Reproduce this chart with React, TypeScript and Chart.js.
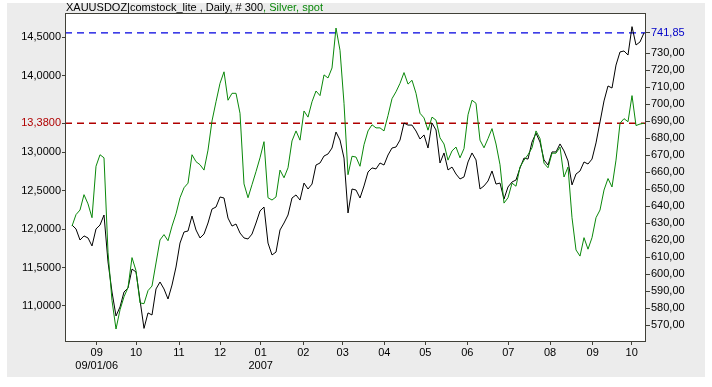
import React, { useEffect, useRef } from 'react';
import { Chart, registerables } from 'chart.js';

Chart.register(...registerables);

// Silver, spot (left axis) — sampled every 2 trading days
const silver = [
  12.04, 12.19, 12.25, 12.45, 12.33, 12.15, 12.82, 12.97, 12.93, 11.70,
  11.07, 10.70, 10.95, 11.12, 11.24, 11.63, 11.46, 11.04, 11.03, 11.20,
  11.26, 11.56, 11.86, 11.93, 11.85, 12.04, 12.20, 12.41, 12.54, 12.60,
  12.97, 12.88, 12.84, 12.77, 13.03, 13.41, 13.66, 13.90, 14.05, 13.68,
  13.77, 13.77, 13.51, 12.59, 12.41, 12.58, 12.75, 12.93, 13.14, 12.41,
  12.38, 12.42, 12.77, 12.67, 12.80, 13.15, 13.28, 13.16, 13.54, 13.46,
  13.66, 13.80, 13.74, 14.01, 13.97, 14.10, 14.62, 14.33, 13.64, 12.71,
  12.95, 12.94, 12.82, 13.10, 13.28, 13.36, 13.32, 13.32, 13.28, 13.48,
  13.70, 13.79, 13.90, 14.04, 13.89, 13.94, 13.77, 13.51, 13.45, 13.29,
  13.46, 13.42, 13.19, 13.11, 12.90, 13.02, 13.07, 12.93, 13.05, 13.49,
  13.68, 13.64, 13.16, 13.06, 13.18, 13.31, 13.11, 12.84, 12.34, 12.41,
  12.60, 12.56, 12.81, 12.90, 12.97, 13.06, 13.28, 13.18, 12.86, 12.80,
  12.99, 12.99, 13.07, 12.68, 12.81, 12.15, 11.73, 11.65, 11.89, 11.74,
  11.89, 12.15, 12.25, 12.51, 12.66, 12.55, 12.90, 13.38, 13.44, 13.40,
  13.74, 13.35, 13.37, 13.38,
];

// XAUUSDOZ gold (right axis) — sampled every 2 trading days
const gold = [
  628.8, 626.5, 620.0, 622.4, 621.2, 616.5, 626.5, 628.8, 634.7, 607.1,
  589.4, 575.3, 580.6, 589.4, 591.8, 602.9, 601.2, 584.7, 568.0, 577.1,
  575.9, 591.2, 595.3, 591.2, 585.3, 593.5, 604.1, 618.2, 624.7, 625.3,
  634.1, 625.9, 621.2, 623.5, 630.0, 638.2, 639.4, 645.3, 644.7, 632.9,
  628.2, 629.4, 624.1, 621.2, 620.6, 623.5, 630.0, 637.1, 639.4, 618.2,
  611.2, 612.9, 625.9, 630.0, 634.7, 644.7, 646.5, 643.5, 653.5, 650.0,
  652.9, 664.1, 665.3, 669.4, 670.6, 674.1, 683.5, 678.8, 668.2, 635.9,
  650.0, 649.4, 644.7, 651.8, 660.0, 662.4, 661.8, 665.3, 664.1, 670.0,
  674.1, 674.7, 678.8, 688.8, 687.6, 687.6, 684.1, 679.4, 681.8, 674.1,
  688.8, 684.7, 665.3, 671.2, 661.2, 662.9, 658.8, 655.9, 657.1, 665.9,
  671.2, 667.1, 650.0, 651.8, 654.7, 660.6, 652.9, 653.5, 644.1, 651.2,
  654.1, 655.3, 662.4, 668.2, 667.6, 677.6, 682.9, 677.6, 667.1, 664.1,
  671.8, 671.8, 676.5, 672.4, 666.5, 652.4, 658.8, 660.6, 665.9, 664.7,
  667.6, 677.1, 689.4, 701.8, 710.6, 709.4, 722.9, 730.6, 731.2, 728.8,
  745.5, 734.7, 736.5, 741.85,
];

// Month ticks (position in sample index), labels
const monthTickPos = [6.17, 16, 26.75, 37, 47.17, 57.83, 67.67, 78.08, 88.33, 98.83, 109.08, 119.5, 130.17, 139.92];
const monthLabels = ['09', '10', '11', '12', '01', '02', '03', '04', '05', '06', '07', '08', '09', '10'];
const subLabels = ['09/01/06', '', '', '', '2007', '', '', '', '', '', '', '', '', ''];

const silverTicks = [11.0, 11.5, 12.0, 12.5, 13.0, 14.0, 14.5];
const goldTicks = [570, 580, 590, 600, 610, 620, 630, 640, 650, 660, 670, 680, 690, 700, 710, 720, 730];

const titleMain = 'XAUUSDOZ|comstock_lite , Daily, # 300';
const titleSecond = ', Silver, spot';

const GREEN = '#0a880a';
const RED = '#b00000';
const BLUE = '#0000e0';
const BLUE_TEXT = '#0000c8';
const RED_TEXT = '#b00000';
const FONT = 'Liberation Sans';

export default function App() {
  const ref = useRef<HTMLCanvasElement | null>(null);

  useEffect(() => {
    const canvas = ref.current;
    if (!canvas) return;
    const lastSilver = silver[silver.length - 1];
    const lastGold = gold[gold.length - 1];
    const n = silver.length;

    const bgPlugin = {
      id: 'bgPlugin',
      beforeDraw(chart: any) {
        const { ctx, chartArea: a } = chart;
        ctx.save();
        ctx.fillStyle = '#ffffff';
        ctx.fillRect(0, 0, chart.width, chart.height);
        ctx.fillStyle = '#ececec';
        ctx.fillRect(7, 3, 698, 374);
        ctx.fillStyle = '#ffffff';
        ctx.fillRect(a.left, a.top, a.right - a.left, a.bottom - a.top);
        ctx.restore();
      },
      afterDraw(chart: any) {
        const { ctx, chartArea: a } = chart;
        ctx.save();
        ctx.strokeStyle = '#404038';
        ctx.lineWidth = 1;
        ctx.strokeRect(a.left + 0.5, a.top + 0.5, a.right - a.left - 1, a.bottom - a.top - 1);
        ctx.font = `11px "${FONT}"`;
        ctx.textBaseline = 'alphabetic';
        ctx.fillStyle = '#000000';
        ctx.fillText(titleMain, a.left + 1, 11);
        const w = ctx.measureText(titleMain).width;
        ctx.fillStyle = GREEN;
        ctx.fillText(titleSecond, a.left + 1 + w, 11);
        ctx.restore();
      },
    };

    const chart = new Chart(canvas, {
      type: 'line',
      data: {
        datasets: [
          {
            label: 'Silver, spot',
            data: silver.map((v, i) => ({ x: i, y: v })),
            yAxisID: 'yL',
            borderColor: GREEN,
            borderWidth: 1,
            pointRadius: 0,
            tension: 0,
            order: 1,
          },
          {
            label: 'XAUUSDOZ',
            data: gold.map((v, i) => ({ x: i, y: v })),
            yAxisID: 'yR',
            borderColor: '#000000',
            borderWidth: 1,
            pointRadius: 0,
            tension: 0,
            order: 2,
          },
          {
            label: 'Last silver',
            data: [{ x: -1.75, y: lastSilver }, { x: 143.5, y: lastSilver }],
            yAxisID: 'yL',
            borderColor: RED,
            borderWidth: 1.4,
            borderDash: [7, 5],
            pointRadius: 0,
            order: 3,
          },
          {
            label: 'Last gold',
            data: [{ x: -1.75, y: lastGold }, { x: 143.5, y: lastGold }],
            yAxisID: 'yR',
            borderColor: BLUE,
            borderWidth: 1.4,
            borderDash: [7, 5],
            pointRadius: 0,
            order: 4,
          },
        ],
      },
      options: {
        animation: false,
        responsive: false,
        devicePixelRatio: 1,
        layout: { padding: { top: 13, left: 0, right: 0, bottom: 0 } },
        plugins: { legend: { display: false }, tooltip: { enabled: false }, title: { display: false } },
        scales: {
          x: {
            type: 'linear',
            min: -1.75,
            max: 143.5,
            border: { display: false },
            grid: { drawOnChartArea: false, drawTicks: true, tickLength: 3, color: '#404038' },
            afterBuildTicks: (scale: any) => {
              scale.ticks = monthTickPos.map((v) => ({ value: v }));
            },
            afterFit: (scale: any) => {
              scale.height = 45;
            },
            ticks: {
              autoSkip: false,
              maxRotation: 0,
              padding: 1,
              color: '#000000',
              font: { family: FONT, size: 11 },
              callback: (_v: any, idx: number) =>
                subLabels[idx] ? [monthLabels[idx], subLabels[idx]] : monthLabels[idx],
            },
          },
          yL: {
            type: 'linear',
            position: 'left',
            min: 10.531,
            max: 14.816,
            border: { display: false },
            grid: { drawOnChartArea: false, drawTicks: true, tickLength: 3, color: '#404038' },
            afterBuildTicks: (scale: any) => {
              scale.ticks = [...silverTicks, lastSilver].sort((a, b) => a - b).map((v) => ({ value: v }));
            },
            afterFit: (scale: any) => {
              scale.width = 65;
            },
            ticks: {
              padding: 1,
              font: { family: FONT, size: 11 },
              color: (c: any) => (c.tick && Math.abs(c.tick.value - lastSilver) < 1e-9 ? RED_TEXT : '#000000'),
              callback: (v: any) => Number(v).toFixed(4).replace('.', ','),
            },
          },
          yR: {
            type: 'linear',
            position: 'right',
            min: 560,
            max: 753.53,
            border: { display: false },
            grid: { drawOnChartArea: false, drawTicks: true, tickLength: 4, color: '#404038' },
            afterBuildTicks: (scale: any) => {
              scale.ticks = [...goldTicks, lastGold].sort((a, b) => a - b).map((v) => ({ value: v }));
            },
            afterFit: (scale: any) => {
              scale.width = 66;
            },
            ticks: {
              padding: 1,
              font: { family: FONT, size: 11 },
              color: (c: any) => (c.tick && Math.abs(c.tick.value - lastGold) < 1e-9 ? BLUE_TEXT : '#000000'),
              callback: (v: any) => Number(v).toFixed(2).replace('.', ','),
            },
          },
        },
      },
      plugins: [bgPlugin],
    } as any);

    void n;
    return () => chart.destroy();
  }, []);

  return (
    <div style={{ position: 'absolute', left: 0, top: 0, width: 712, height: 387, background: '#ffffff' }}>
      <canvas ref={ref} width={712} height={387} style={{ display: 'block', width: 712, height: 387 }} />
    </div>
  );
}
